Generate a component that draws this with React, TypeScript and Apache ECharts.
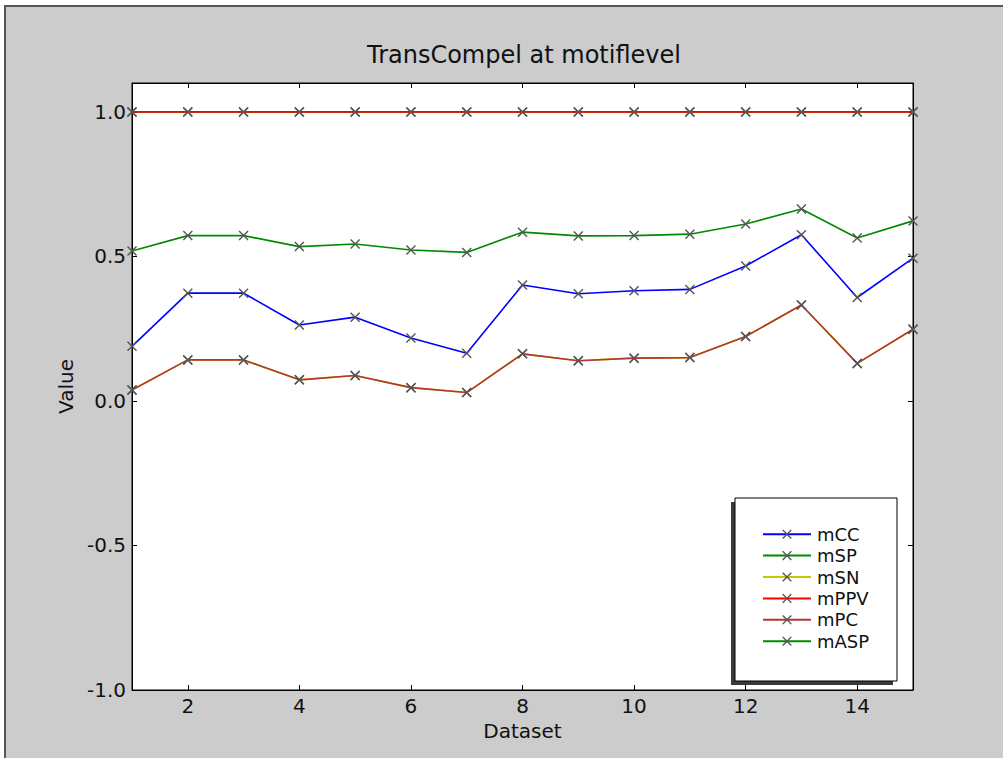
import React, { useEffect, useRef } from "react";
import * as echarts from "echarts";

const datasets = [1, 2, 3, 4, 5, 6, 7, 8, 9, 10, 11, 12, 13, 14, 15];
const seriesNames = ["mCC", "mSP", "mSN", "mPPV", "mPC", "mASP"];
const mCC = [0.189, 0.373, 0.373, 0.263, 0.29, 0.218, 0.165, 0.401, 0.371, 0.381, 0.386, 0.467, 0.575, 0.358, 0.494];
const mSP = [1.0, 1.0, 1.0, 1.0, 1.0, 1.0, 1.0, 1.0, 1.0, 1.0, 1.0, 1.0, 1.0, 1.0, 1.0];
const mSN = [0.038, 0.142, 0.142, 0.073, 0.088, 0.046, 0.029, 0.163, 0.139, 0.148, 0.15, 0.223, 0.332, 0.13, 0.248];
const mPPV = [1.0, 1.0, 1.0, 1.0, 1.0, 1.0, 1.0, 1.0, 1.0, 1.0, 1.0, 1.0, 1.0, 1.0, 1.0];
const mPC = [0.038, 0.142, 0.142, 0.073, 0.088, 0.046, 0.029, 0.163, 0.139, 0.148, 0.15, 0.223, 0.332, 0.13, 0.248];
const mASP = [0.519, 0.572, 0.572, 0.534, 0.543, 0.522, 0.514, 0.584, 0.571, 0.572, 0.577, 0.612, 0.664, 0.564, 0.623];
const seriesValues = [mCC, mSP, mSN, mPPV, mPC, mASP];
const seriesColors = ["#0000ff", "#008a00", "#c8c800", "#ff0000", "#b0392b", "#008a00"];
const xTickValues = [2, 4, 6, 8, 10, 12, 14];
const yTickValues = [-1.0, -0.5, 0.0, 0.5, 1.0];

const FONT = "DejaVu Sans";
const X_SYMBOL = "path://M0,1L1,0L5,4L9,0L10,1L6,5L10,9L9,10L5,6L1,10L0,9L4,5Z";

export default function App() {
  const ref = useRef<HTMLDivElement>(null);
  useEffect(() => {
    if (!ref.current) return;
    const chart = echarts.init(ref.current, undefined, { renderer: "svg" });
    const axisLine = { show: true, onZero: false, lineStyle: { color: "#000", width: 1 } };
    const option: any = {
      animation: false,
      backgroundColor: "#cccccc",
      title: {
        text: "TransCompel at motiflevel",
        left: 362,
        top: 38,
        textStyle: { fontFamily: FONT, fontSize: 24, fontWeight: "normal", color: "#111" },
      },
      grid: {
        left: 132,
        right: 90,
        top: 83,
        bottom: 68,
        show: true,
        backgroundColor: "#ffffff",
        borderColor: "#000",
        borderWidth: 1,
      },
      xAxis: [
        {
          type: "value",
          min: 1,
          max: 15,
          position: "bottom",
          axisLine,
          axisTick: { show: true, inside: true, length: 5, customValues: xTickValues, lineStyle: { color: "#000" } },
          axisLabel: { customValues: xTickValues, fontFamily: FONT, fontSize: 20, color: "#111", margin: 6 },
          splitLine: { show: false },
          name: "Dataset",
          nameLocation: "middle",
          nameGap: 30,
          nameTextStyle: { fontFamily: FONT, fontSize: 20, color: "#111", verticalAlign: "top" },
        },
        {
          type: "value",
          min: 1,
          max: 15,
          position: "top",
          axisLine,
          axisTick: { show: true, inside: true, length: 5, customValues: xTickValues, lineStyle: { color: "#000" } },
          axisLabel: { show: false },
          splitLine: { show: false },
        },
      ],
      yAxis: [
        {
          type: "value",
          min: -1,
          max: 1.1,
          position: "left",
          axisLine,
          axisTick: { show: true, inside: true, length: 5, customValues: yTickValues, lineStyle: { color: "#000" } },
          axisLabel: {
            customValues: yTickValues,
            fontFamily: FONT,
            fontSize: 20,
            color: "#111",
            margin: 6,
            formatter: (v: number) => v.toFixed(1),
          },
          splitLine: { show: false },
          name: "Value",
          nameLocation: "middle",
          nameGap: 56,
          nameTextStyle: { fontFamily: FONT, fontSize: 20, color: "#111" },
        },
        {
          type: "value",
          min: -1,
          max: 1.1,
          position: "right",
          axisLine,
          axisTick: { show: true, inside: true, length: 5, customValues: yTickValues, lineStyle: { color: "#000" } },
          axisLabel: { show: false },
          splitLine: { show: false },
        },
      ],
      legend: {
        data: seriesNames,
        orient: "vertical",
        left: 757,
        top: 520,
        itemWidth: 48,
        itemHeight: 12,
        itemGap: 3,
        z: 10,
        textStyle: { fontFamily: FONT, fontSize: 18, lineHeight: 18.4, color: "#111", padding: [0, 0, 0, 1] },
      },
      graphic: [
        { type: "rect", z: 0, shape: { x: 0, y: 0, width: 1003, height: 5 }, style: { fill: "#ffffff" } },
        { type: "rect", z: 0, shape: { x: 0, y: 0, width: 4, height: 758 }, style: { fill: "#ffffff" } },
        { type: "line", z: 1, shape: { x1: 4, y1: 6, x2: 1003, y2: 6 }, style: { stroke: "#555", lineWidth: 2 } },
        { type: "line", z: 1, shape: { x1: 5, y1: 5, x2: 5, y2: 758 }, style: { stroke: "#555", lineWidth: 2 } },
        { type: "rect", z: 5, shape: { x: 731, y: 502, width: 162, height: 183 }, style: { fill: "#3a3a3a" } },
        { type: "rect", z: 6, shape: { x: 735, y: 498, width: 162, height: 183 }, style: { fill: "#ffffff", stroke: "#000", lineWidth: 1 } },
      ],
      series: seriesNames.map((name, i) => ({
        name,
        type: "line",
        xAxisIndex: 0,
        yAxisIndex: 0,
        data: datasets.map((d, j) => [d, seriesValues[i][j]]),
        symbol: X_SYMBOL,
        symbolSize: 10,
        showSymbol: true,
        itemStyle: { color: "#555" },
        lineStyle: { color: seriesColors[i], width: 1.6 },
        clip: true,
      })),
    };
    chart.setOption(option);
    return () => chart.dispose();
  }, []);
  return <div ref={ref} style={{ position: "absolute", left: 0, top: 0, width: 1003, height: 758 }} />;
}
